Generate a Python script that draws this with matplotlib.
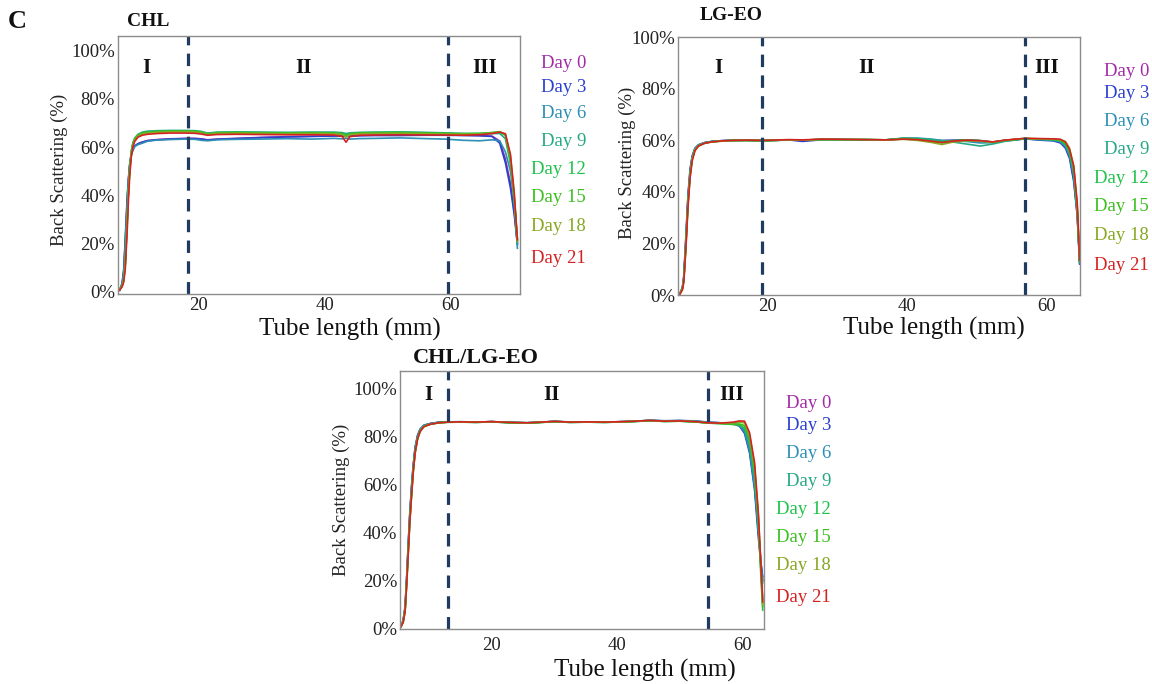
import matplotlib
matplotlib.use("Agg")
import matplotlib.pyplot as plt
from matplotlib.ticker import FixedLocator, FuncFormatter

plt.rcParams['font.family'] = 'serif'
plt.rcParams['font.serif'] = ['Liberation Serif', 'DejaVu Serif']

# ---------------------------------------------------------------- data
day_labels = ['Day 0', 'Day 3', 'Day 6', 'Day 9', 'Day 12', 'Day 15', 'Day 18', 'Day 21']
day_colors = ['#a22aa8', '#2b3fcf', '#2c8fb5', '#25a985', '#1fc24a', '#3cbf1f', '#86a822', '#d42222']

y_ticks = [0, 20, 40, 60, 80, 100]
x_ticks = [20, 40, 60]
zone_names = ['I', 'II', 'III']

# CHL
chl_x = [7.6, 8.0, 8.25, 8.5, 8.8, 9.0, 9.2, 9.45, 9.7, 10.0, 10.5, 11.2, 12.0, 13.5, 15.5, 18.0,
         19.5, 20.5, 21.5, 23.0, 26.0, 30.0, 34.0, 38.0, 41.5, 42.8, 43.4, 44.0, 45.5, 48.0, 52.0,
         56.0, 59.0, 62.0, 64.5, 66.5, 67.7, 68.6, 69.4, 70.0, 70.5]
chl_d0 = [0.6, 3.2, 8.5, 21, 38, 46.5, 52.5, 56.8, 59.0, 60.4, 61.4, 62.1, 62.7, 63.1, 63.4, 63.6,
          63.6, 63.4, 63.0, 63.3, 63.6, 64.0, 64.3, 64.5, 64.6, 64.7, 64.5, 64.6, 64.8, 64.9, 64.9,
          65.0, 65.0, 64.9, 64.8, 64.5, 62.5, 55, 45, 33, 20]
chl_d3 = [0.5, 3.5, 9.0, 22, 39, 47, 53, 57.0, 59.2, 60.5, 61.3, 62.0, 62.6, 63.0, 63.3, 63.5,
          63.5, 63.3, 62.9, 63.2, 63.5, 63.9, 64.2, 64.4, 64.6, 64.6, 64.4, 64.5, 64.7, 64.8, 64.8,
          64.9, 64.9, 64.8, 64.7, 64.4, 61.6, 53.5, 43, 32, 19.5]
chl_d6 = [0.7, 3.0, 8.0, 20, 37, 46, 52.5, 56.5, 58.6, 60.2, 61.0, 61.6, 62.4, 62.9, 63.1, 63.3,
          63.2, 62.8, 62.6, 63.0, 63.2, 63.3, 63.5, 63.3, 63.6, 63.4, 63.7, 63.3, 63.5, 63.6, 63.8,
          63.5, 63.3, 62.8, 62.6, 63.0, 62.6, 58, 50, 38, 18]
chl_d9 = [0.8, 2.6, 5.5, 13, 31, 43, 52, 58.5, 61.8, 63.8, 65.3, 66.2, 66.6, 66.8, 66.9, 66.9,
          66.8, 66.5, 65.8, 66.2, 66.3, 66.2, 66.1, 66.2, 66.2, 66.0, 65.6, 65.9, 66.1, 66.2, 66.3,
          66.1, 65.9, 65.6, 65.5, 65.6, 65.6, 63.5, 53, 37, 20]
chl_d12 = [0.8, 2.5, 5.0, 12, 30, 42, 51, 58.0, 61.5, 63.5, 65.0, 65.8, 66.2, 66.5, 66.7, 66.7,
           66.6, 66.3, 65.5, 66.0, 66.1, 66.0, 65.9, 66.0, 65.9, 65.6, 65.0, 65.5, 65.9, 66.0, 66.1,
           65.9, 65.7, 65.6, 65.7, 66.0, 66.3, 64.8, 54, 38, 22]
chl_d15 = [0.8, 2.4, 4.8, 11.5, 29, 41.5, 50.5, 57.6, 61.2, 63.3, 64.9, 65.7, 66.1, 66.4, 66.6, 66.6,
           66.5, 66.2, 65.4, 65.9, 66.0, 65.9, 65.8, 65.9, 65.8, 65.5, 64.6, 65.4, 65.8, 65.9, 66.0,
           65.8, 65.6, 65.5, 65.6, 66.0, 66.4, 65.2, 55, 39, 21]
chl_d18 = [0.7, 2.3, 4.5, 11, 28, 41, 50, 57.2, 60.8, 63.0, 64.6, 65.4, 65.8, 66.1, 66.3, 66.3,
           66.2, 65.9, 65.2, 65.6, 65.7, 65.6, 65.5, 65.6, 65.5, 65.2, 64.2, 65.1, 65.5, 65.6, 65.7,
           65.5, 65.4, 65.3, 65.4, 65.8, 66.3, 65.4, 56, 40, 21]
chl_d21 = [0.6, 2.0, 4.0, 9.5, 25, 38, 48, 56.0, 60.0, 62.4, 64.1, 64.9, 65.3, 65.6, 65.8, 65.8,
           65.7, 65.4, 64.9, 65.2, 65.3, 65.2, 65.1, 65.1, 65.0, 64.4, 62.0, 64.3, 64.9, 65.0, 65.1,
           65.0, 65.0, 64.9, 65.1, 65.6, 66.2, 65.5, 57, 41, 21.5]
chl_zones = [18.47, 59.6]

# LG-EO
lg_x = [7.45, 7.8, 8.0, 8.3, 8.6, 8.9, 9.2, 9.6, 10.1, 11.0, 12.0, 13.5, 15.0, 17.0, 19.2, 21.0,
        23.0, 25.0, 28.0, 31.0, 34.0, 37.0, 39.5, 41.5, 43.5, 45.0, 46.5, 48.5, 50.5, 52.3, 54.0,
        56.9, 59.0, 61.0, 62.0, 62.7, 63.3, 63.9, 64.4, 64.75]
lg_d0 = [0.6, 2.8, 7, 22, 38, 48, 53.5, 56.8, 58.2, 59.1, 59.6, 59.9, 60.0, 60.1, 59.9, 60.1,
         60.2, 60.1, 60.4, 60.3, 60.2, 60.2, 60.7, 60.5, 60.0, 59.8, 60.0, 60.1, 59.8, 59.4, 60.0,
         60.6, 60.4, 60.2, 59.6, 57.8, 54, 45, 31, 12.5]
lg_d3 = [0.6, 3.0, 7.5, 23, 39, 49, 54, 57.0, 58.3, 59.2, 59.6, 59.9, 60.0, 60.0, 59.8, 60.0,
         60.2, 59.6, 60.3, 60.3, 60.2, 60.1, 60.6, 60.4, 60.1, 59.9, 60.0, 60.2, 59.9, 59.2, 59.9,
         60.6, 60.1, 59.8, 59.0, 57.0, 53, 44, 31, 12]
lg_d6 = [0.5, 2.7, 6.5, 21, 37, 47.5, 53.2, 56.7, 58.1, 59.0, 59.5, 59.8, 60.0, 60.0, 59.9, 60.0,
         60.1, 60.1, 60.3, 60.2, 60.3, 60.2, 60.9, 60.9, 60.5, 60.0, 59.9, 59.6, 59.0, 59.1, 59.8,
         60.6, 60.3, 60.0, 59.4, 57.6, 54, 46, 32, 12.5]
lg_d9 = [0.5, 2.6, 6.2, 20.5, 36.5, 47, 53, 56.6, 58.0, 59.0, 59.5, 59.8, 59.9, 60.0, 59.9, 60.0,
         60.2, 60.1, 60.3, 60.3, 60.3, 60.2, 60.8, 60.7, 60.3, 59.8, 59.4, 58.6, 57.8, 58.6, 59.6,
         60.6, 60.4, 60.2, 59.7, 58.2, 55, 47.5, 33, 13]
lg_d12 = [0.5, 2.5, 6, 20, 36, 47, 53, 56.5, 58.0, 59.0, 59.5, 59.8, 60.0, 60.0, 59.9, 60.0,
          60.2, 60.1, 60.4, 60.3, 60.3, 60.2, 60.8, 60.5, 59.8, 59.4, 59.9, 60.2, 59.9, 59.3, 60.0,
          60.7, 60.5, 60.3, 59.9, 58.6, 55.5, 48, 33, 13]
lg_d15 = [0.5, 2.4, 5.8, 19.5, 35.5, 46.5, 52.8, 56.3, 57.9, 58.9, 59.4, 59.8, 60.0, 60.0, 59.9, 60.0,
          60.2, 60.1, 60.4, 60.3, 60.3, 60.2, 60.6, 60.3, 59.6, 59.0, 59.6, 60.0, 59.7, 59.3, 60.0,
          60.7, 60.5, 60.4, 60.1, 59.0, 56.2, 49, 34, 13]
lg_d18 = [0.5, 2.3, 5.5, 19, 35, 46, 52.5, 56.2, 57.8, 58.9, 59.4, 59.7, 59.9, 60.0, 59.9, 60.0,
          60.2, 60.1, 60.4, 60.3, 60.3, 60.1, 60.4, 60.0, 59.2, 58.4, 59.3, 59.9, 59.7, 59.3, 60.0,
          60.8, 60.6, 60.5, 60.3, 59.6, 57, 50, 35, 13.5]
lg_d21 = [0.4, 2.0, 5.0, 18, 34, 45.5, 52, 56.0, 57.8, 58.9, 59.4, 59.8, 60.0, 60.1, 60.0, 60.1,
          60.3, 60.2, 60.5, 60.4, 60.3, 60.2, 60.5, 60.3, 59.7, 59.2, 59.7, 60.1, 59.9, 59.4, 60.1,
          60.8, 60.7, 60.6, 60.4, 59.4, 56.5, 50, 36, 13.5]
lg_zones = [19.17, 56.87]

# CHL/LG-EO
mix_x = [5.55, 5.9, 6.2, 6.45, 6.7, 6.95, 7.25, 7.5, 7.8, 8.2, 8.6, 9.2, 10.2, 11.5, 13.0, 15.0,
         17.5, 20.0, 22.5, 25.6, 28.0, 30.0, 32.5, 35.2, 38.0, 41.0, 43.0, 45.2, 47.5, 50.0, 52.5,
         54.5, 56.5, 58.5, 59.5, 60.3, 61.1, 61.9, 62.5, 62.9, 63.2]
mix_d0 = [0.8, 3.3, 8.5, 20.5, 34, 47, 59, 67.5, 75, 80.2, 82.8, 84.5, 85.3, 85.8, 86.0, 86.0,
          85.9, 86.1, 85.8, 85.6, 85.9, 86.2, 85.9, 86.0, 85.9, 86.1, 86.3, 86.6, 86.4, 86.5, 86.3,
          85.8, 85.6, 85.3, 84.6, 82.0, 74.5, 59.5, 40, 28, 20]
mix_d3 = [0.8, 3.5, 9, 21, 35, 48, 60, 68, 75.5, 80.5, 83, 84.6, 85.3, 85.8, 86.0, 86.0,
          85.9, 86.1, 85.8, 85.6, 85.9, 86.2, 85.9, 86.0, 85.9, 86.1, 86.3, 86.6, 86.4, 86.5, 86.3,
          85.8, 85.6, 85.2, 84.2, 81.2, 73, 57.6, 38, 27, 21.5]
mix_d6 = [0.8, 3.4, 8.8, 21, 35, 47.5, 59.5, 67.8, 75.2, 80.3, 82.9, 84.6, 85.3, 85.8, 86.0, 86.1,
          85.9, 86.1, 85.9, 85.7, 85.9, 86.2, 86.0, 86.0, 85.9, 86.1, 86.3, 86.7, 86.5, 86.6, 86.4,
          85.9, 85.6, 85.3, 84.5, 81.8, 74, 59, 40.5, 28, 19]
mix_d9 = [0.7, 3.0, 8, 19.5, 33, 46, 58, 66.5, 74, 79.6, 82.5, 84.3, 85.1, 85.7, 85.9, 86.0,
          85.8, 86.0, 85.7, 85.5, 85.8, 86.1, 85.8, 85.9, 85.8, 86.0, 86.2, 86.5, 86.2, 86.3, 86.0,
          85.5, 85.4, 85.2, 84.8, 83.0, 77, 62, 43, 25, 12]
mix_d12 = [0.7, 2.8, 7.5, 19, 32, 45, 57, 66, 73.5, 79.3, 82.3, 84.2, 85.0, 85.6, 85.9, 85.9,
           85.8, 86.0, 85.7, 85.5, 85.8, 86.1, 85.8, 85.9, 85.8, 86.0, 86.2, 86.5, 86.2, 86.3, 86.0,
           85.5, 85.3, 84.9, 84.7, 83.5, 78, 64, 44, 22, 7.6]
mix_d15 = [0.7, 2.7, 7.2, 18.5, 31.5, 44.5, 56.5, 65.5, 73.2, 79.1, 82.1, 84.1, 85.0, 85.6, 85.8, 85.9,
           85.8, 86.0, 85.7, 85.5, 85.8, 86.1, 85.8, 85.9, 85.8, 86.0, 86.2, 86.5, 86.2, 86.3, 86.0,
           85.5, 85.3, 85.0, 85.1, 84.5, 79.5, 66, 46, 24, 9]
mix_d18 = [0.7, 2.6, 7.1, 18.2, 31.2, 44.2, 56.2, 65.2, 73.1, 79.0, 82.0, 84.0, 85.0, 85.6, 85.9, 86.0,
           85.9, 86.1, 85.8, 85.6, 85.9, 86.2, 85.9, 86.0, 85.9, 86.1, 86.3, 86.6, 86.3, 86.4, 86.1,
           85.6, 85.5, 85.6, 85.9, 85.6, 80.5, 67.5, 47, 26, 10]
mix_d21 = [0.7, 2.5, 7, 18, 31, 44, 56, 65, 73, 79, 82, 84, 85, 85.6, 85.9, 86.0,
           85.9, 86.1, 85.8, 85.6, 85.9, 86.2, 85.9, 86.0, 85.9, 86.1, 86.3, 86.6, 86.3, 86.4, 86.1,
           85.6, 85.5, 85.9, 86.4, 86.3, 81.5, 69, 48, 27, 11]
mix_zones = [12.99, 54.4]

# ---------------------------------------------------------------- layout (pixels)
W, H = 1152, 684
fig = plt.figure(figsize=(W / 100, H / 100), dpi=100)
fig.patch.set_facecolor('white')


def fx(px):
    return px / W


def fy(py):
    return 1 - py / H


def make_axes(left, right, top, bottom):
    return fig.add_axes([fx(left), fy(bottom), (right - left) / W, (bottom - top) / H])


panels = [
    dict(box=(117.7, 519.5, 36, 294), xlim=(7.3, 70.83), ylim=(-1.0, 106.1),
         x=chl_x, ys=[chl_d0, chl_d3, chl_d6, chl_d9, chl_d12, chl_d15, chl_d18, chl_d21],
         zones=chl_zones, zone_x=[11.8, 36.6, 65.3], zone_y=92.8,
         title='CHL', title_xy=(127, 22), title_size=14,
         xlabel_xy=(0.578, -0.136), ylabel_xy=(-0.1446, 0.481), xpad=2.5,
         legend_right=586, legend_y=[64, 87, 114, 142, 170, 198, 226, 258]),
    dict(box=(678.3, 1080, 37.3, 295), xlim=(7.21, 64.8), ylim=(0, 100),
         x=lg_x, ys=[lg_d0, lg_d3, lg_d6, lg_d9, lg_d12, lg_d15, lg_d18, lg_d21],
         zones=lg_zones, zone_x=[12.95, 34.2, 60.0], zone_y=87.9,
         title='LG-EO', title_xy=(700, 16), title_size=14,
         xlabel_xy=(0.635, -0.128), ylabel_xy=(-0.128, 0.511), xpad=2.0,
         legend_right=1149, legend_y=[72, 94, 122, 150, 178, 207, 235, 266]),
    dict(box=(400, 764, 371, 629), xlim=(5.39, 63.4), ylim=(-0.3, 107.2),
         x=mix_x, ys=[mix_d0, mix_d3, mix_d6, mix_d9, mix_d12, mix_d15, mix_d18, mix_d21],
         zones=mix_zones, zone_x=[9.9, 29.6, 58.2], zone_y=97.3,
         title='CHL/LG-EO', title_xy=(413, 358), title_size=16,
         xlabel_xy=(0.673, -0.159), ylabel_xy=(-0.160, 0.5), xpad=6,
         legend_right=831, legend_y=[403, 425, 453, 481, 509, 537, 566, 597]),
]

for p in panels:
    ax = make_axes(*p['box'])
    for ys, col in zip(p['ys'], day_colors):
        ax.plot(p['x'], ys, color=col, lw=1.2, solid_joinstyle='round')
    for zx in p['zones']:
        ax.axvline(zx, color='#1f3b60', lw=2.3, dashes=(3.9, 2.6))
    for name, zx in zip(zone_names, p['zone_x']):
        ax.text(zx, p['zone_y'], name, ha='center', va='center',
                fontsize=15, fontweight='bold', color='#111111')

    ax.set_xlim(*p['xlim'])
    ax.set_ylim(*p['ylim'])
    ax.yaxis.set_major_locator(FixedLocator(y_ticks))
    ax.yaxis.set_major_formatter(FuncFormatter(lambda v, _: f'{v:.0f}%'))
    ax.xaxis.set_major_locator(FixedLocator(x_ticks))
    ax.tick_params(axis='both', length=0, labelsize=13.5, colors='#222222')
    ax.tick_params(axis='y', pad=2)
    ax.tick_params(axis='x', pad=p['xpad'])
    for s in ax.spines.values():
        s.set_color('#8c8c8c')
        s.set_linewidth(1.0)

    ax.set_xlabel('Tube length (mm)', fontsize=18, color='#111111')
    ax.xaxis.set_label_coords(*p['xlabel_xy'])
    ax.xaxis.label.set_va('center')
    ax.set_ylabel('Back Scattering (%)', fontsize=13.5, color='#222222')
    ax.yaxis.set_label_coords(*p['ylabel_xy'])
    ax.yaxis.label.set_va('center')

    tx, ty = p['title_xy']
    fig.text(fx(tx), fy(ty), p['title'], ha='left', va='center',
             fontsize=p['title_size'], fontweight='bold', color='#111111')

    for lab, col, ly in zip(day_labels, day_colors, p['legend_y']):
        fig.text(fx(p['legend_right']), fy(ly), lab, ha='right', va='center',
                 fontsize=13.5, color=col)

fig.text(fx(17), fy(22), 'C', ha='center', va='center', fontsize=19,
         fontweight='bold', color='#111111')

fig.savefig('out.png', dpi=100, facecolor='white')
